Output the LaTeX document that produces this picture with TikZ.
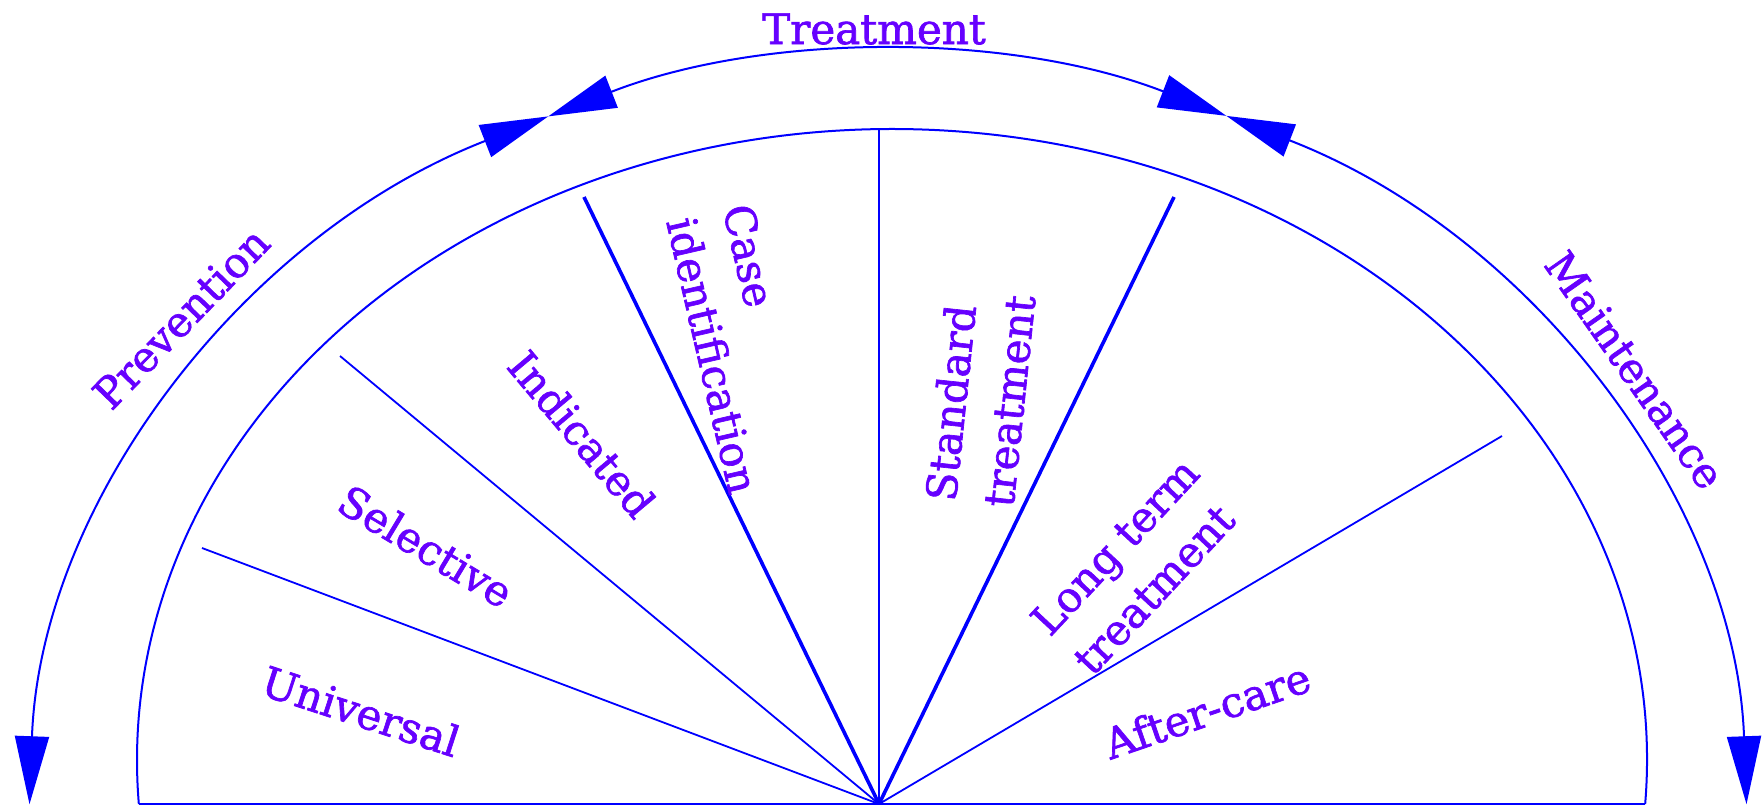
\documentclass[tikz,border=0pt]{standalone}
\usepackage{fontspec}
\setmainfont{DejaVu Serif}
\newfontfamily\lblfont{DejaVu Serif}[BoldFont=DejaVu Serif, BoldFeatures={FakeBold=1.6}]
\usetikzlibrary{arrows.meta}
\definecolor{lblc}{RGB}{102,0,255}
\definecolor{lnc}{RGB}{0,0,255}
\begin{document}
\begin{tikzpicture}[x=1pt,y=1pt,
  lbl/.style={text=lblc, font=\lblfont\bfseries\fontsize{42}{58}\selectfont, inner sep=0pt, align=left},
  arcline/.style={draw=lnc, line width=2pt},
  thinline/.style={draw=lnc, line width=1.8pt},
  thickline/.style={draw=lnc, line width=3.6pt},
  bigtip/.tip={Triangle[length=68pt,width=34pt]}]
\useasboundingbox (0,0) rectangle (1762,804);
% outer arcs (ellipse centre 888,-26; radii 859, 777)
\coordinate (p1) at ([shift={(888,-26)}]113.3:859 and 777);
\coordinate (p2) at ([shift={(888,-26)}]178.1:859 and 777);
\coordinate (t2) at ([shift={(888,-26)}]66.8:859 and 777);
\coordinate (m2) at ([shift={(888,-26)}]1.9:859 and 777);
\draw[arcline, bigtip-bigtip] (p1) arc[start angle=113.3, end angle=178.1, x radius=859, y radius=777];
\draw[arcline, bigtip-bigtip] (t2) arc[start angle=66.8, end angle=113.3, x radius=859, y radius=777];
\draw[arcline, bigtip-bigtip] (m2) arc[start angle=1.9, end angle=66.8, x radius=859, y radius=777];
% inner arc (centre 892,44; radii 755, 631)
\coordinate (i1) at ([shift={(892,44)}]-4:755 and 631);
\coordinate (i2) at ([shift={(892,44)}]184:755 and 631);
\draw[arcline] (i1) arc[start angle=-4, end angle=184, x radius=755, y radius=631];
\draw[draw=lnc, line width=1.6pt] (i2) -- (i1);
% radial lines
\coordinate (O) at (879,0);
\coordinate (e1) at (202,256);
\coordinate (e2) at (340,448);
\coordinate (e3) at (584,607);
\coordinate (e4) at (879,675);
\coordinate (e5) at (1174,607);
\coordinate (e6) at (1502,368);
\draw[thinline] (O) -- (e1);
\draw[thinline] (O) -- (e2);
\draw[thickline] (O) -- (e3);
\draw[thinline] (O) -- (e4);
\draw[thickline] (O) -- (e5);
\draw[thinline] (O) -- (e6);
% labels
\node[lbl] (treat) at (874,775) {Treatment};
\node[lbl, rotate=46] (prev) at (181,486) {Prevention};
\node[lbl, rotate=-55] (maint) at (1635,434) {Maintenance};
\node[lbl, rotate=-18] (univ) at (361,93) {Universal};
\node[lbl, rotate=-31] (sel) at (426,258) {Selective};
\node[lbl, rotate=-50] (ind) at (582,370) {Indicated};
\node[lbl, rotate=-77] (case) at (741,455) {Case\\identification};
\node[lbl, rotate=84] (std) at (980,406) {Standard\\treatment};
\node[lbl, rotate=47] (long) at (1136,238) {Long term\\treatment};
\node[lbl, rotate=19] (after) at (1207,94) {After-care};
\end{tikzpicture}
\end{document}
